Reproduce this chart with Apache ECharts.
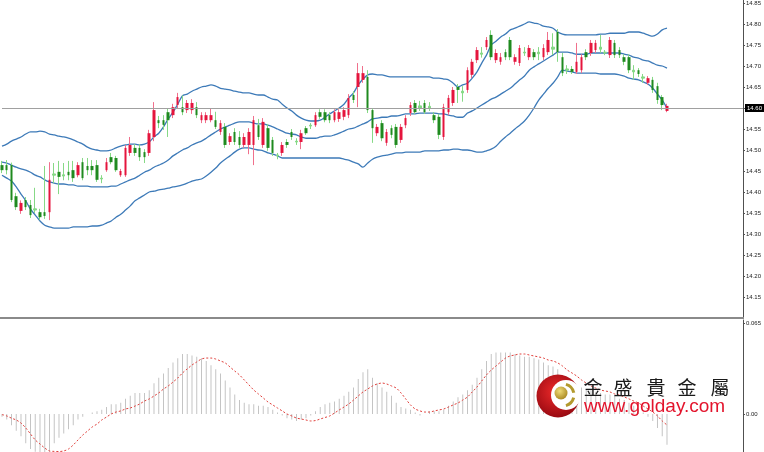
<!DOCTYPE html>
<html><head><meta charset="utf-8">
<script src="https://cdn.jsdelivr.net/npm/echarts@6/dist/echarts.min.js"></script>
<style>html,body{margin:0;padding:0;background:#fff}#c{width:764px;height:452px}</style>
</head><body><div id="c"></div>
<script>
// ---- price candles (141 bars) ----
const openP = [14.464,14.464,14.464,14.390,14.355,14.381,14.369,14.360,14.352,14.352,
14.352,14.443,14.448,14.441,14.448,14.452,14.440,14.471,14.462,14.462,
14.464,14.433,14.452,14.483,14.481,14.440,14.440,14.493,14.505,14.505,
14.495,14.493,14.531,14.571,14.571,14.590,14.583,14.607,14.602,14.595,
14.595,14.602,14.571,14.571,14.571,14.571,14.543,14.555,14.519,14.543,
14.531,14.512,14.512,14.512,14.559,14.512,14.552,14.524,14.488,14.493,
14.519,14.543,14.521,14.519,14.552,14.559,14.559,14.590,14.590,14.583,
14.571,14.574,14.579,14.583,14.631,14.650,14.667,14.674,14.595,14.540,
14.564,14.517,14.552,14.555,14.524,14.559,14.588,14.612,14.605,14.612,
14.604,14.583,14.579,14.531,14.590,14.612,14.650,14.640,14.643,14.679,
14.714,14.731,14.745,14.774,14.714,14.710,14.733,14.762,14.710,14.707,
14.733,14.721,14.733,14.733,14.721,14.733,14.745,14.781,14.721,14.693,
14.693,14.686,14.690,14.733,14.731,14.738,14.745,14.733,14.726,14.755,
14.738,14.721,14.721,14.690,14.690,14.674,14.660,14.667,14.652,14.626,
14.593];
const highP = [14.474,14.476,14.470,14.398,14.380,14.388,14.381,14.410,14.360,14.462,
14.471,14.469,14.474,14.469,14.474,14.474,14.471,14.481,14.481,14.476,
14.476,14.440,14.481,14.493,14.486,14.455,14.512,14.531,14.514,14.514,
14.502,14.548,14.614,14.581,14.583,14.600,14.610,14.636,14.630,14.619,
14.621,14.614,14.590,14.590,14.598,14.591,14.571,14.564,14.540,14.552,
14.545,14.540,14.552,14.581,14.574,14.576,14.562,14.531,14.493,14.519,
14.526,14.550,14.528,14.548,14.557,14.564,14.590,14.597,14.597,14.590,
14.597,14.597,14.602,14.633,14.640,14.707,14.700,14.690,14.600,14.562,
14.571,14.550,14.559,14.562,14.562,14.583,14.614,14.619,14.617,14.619,
14.614,14.590,14.586,14.610,14.631,14.650,14.657,14.652,14.697,14.717,
14.745,14.745,14.769,14.785,14.740,14.731,14.740,14.769,14.728,14.750,
14.745,14.750,14.740,14.745,14.752,14.781,14.778,14.788,14.731,14.702,
14.700,14.755,14.728,14.740,14.762,14.762,14.774,14.738,14.769,14.762,
14.745,14.728,14.728,14.702,14.695,14.681,14.676,14.674,14.660,14.631,
14.610];
const lowP = [14.445,14.442,14.376,14.357,14.348,14.357,14.338,14.350,14.333,14.336,
14.333,14.421,14.395,14.428,14.428,14.424,14.435,14.428,14.440,14.440,
14.424,14.421,14.448,14.466,14.448,14.436,14.436,14.486,14.486,14.474,
14.469,14.486,14.521,14.552,14.548,14.531,14.576,14.600,14.583,14.588,
14.586,14.576,14.564,14.564,14.566,14.550,14.536,14.505,14.512,14.512,
14.505,14.505,14.490,14.464,14.524,14.505,14.498,14.486,14.478,14.486,
14.505,14.524,14.512,14.502,14.536,14.550,14.555,14.574,14.566,14.564,
14.566,14.567,14.571,14.576,14.612,14.602,14.660,14.588,14.517,14.533,
14.521,14.510,14.528,14.505,14.517,14.552,14.581,14.586,14.593,14.586,
14.593,14.564,14.526,14.524,14.583,14.605,14.612,14.615,14.636,14.671,
14.707,14.720,14.738,14.714,14.707,14.703,14.714,14.714,14.703,14.700,
14.724,14.714,14.714,14.714,14.714,14.726,14.726,14.710,14.676,14.681,
14.681,14.681,14.683,14.714,14.724,14.731,14.731,14.726,14.719,14.719,
14.719,14.702,14.683,14.667,14.674,14.660,14.655,14.636,14.610,14.595,
14.590];
const closeP = [14.452,14.452,14.381,14.364,14.374,14.364,14.345,14.357,14.340,14.343,
14.429,14.440,14.436,14.438,14.440,14.433,14.464,14.433,14.452,14.452,
14.429,14.431,14.471,14.471,14.452,14.450,14.505,14.512,14.493,14.483,
14.483,14.540,14.595,14.564,14.560,14.571,14.602,14.626,14.590,14.612,
14.612,14.583,14.583,14.583,14.583,14.555,14.564,14.512,14.533,14.519,
14.512,14.531,14.543,14.571,14.531,14.567,14.505,14.493,14.486,14.512,
14.512,14.531,14.519,14.540,14.540,14.557,14.583,14.579,14.571,14.571,
14.590,14.590,14.595,14.624,14.619,14.683,14.683,14.595,14.552,14.555,
14.528,14.543,14.536,14.512,14.555,14.576,14.607,14.590,14.600,14.590,
14.600,14.571,14.536,14.602,14.624,14.643,14.643,14.636,14.690,14.710,
14.738,14.728,14.762,14.721,14.731,14.721,14.721,14.721,14.721,14.743,
14.731,14.743,14.721,14.729,14.743,14.762,14.740,14.733,14.683,14.690,
14.686,14.710,14.721,14.721,14.755,14.755,14.740,14.731,14.762,14.726,
14.726,14.710,14.690,14.686,14.681,14.671,14.671,14.643,14.619,14.607,
14.605];

// ---- Bollinger bands ----
const bbUpper = [14.509,14.514,14.521,14.526,14.531,14.538,14.543,14.543,14.545,14.543,
14.538,14.536,14.533,14.531,14.528,14.524,14.519,14.514,14.507,14.502,
14.500,14.498,14.498,14.500,14.505,14.509,14.512,14.514,14.514,14.512,
14.514,14.519,14.531,14.540,14.555,14.574,14.590,14.609,14.629,14.633,
14.640,14.645,14.650,14.652,14.655,14.652,14.647,14.645,14.643,14.640,
14.638,14.636,14.636,14.633,14.631,14.631,14.626,14.621,14.619,14.609,
14.600,14.593,14.583,14.576,14.571,14.569,14.569,14.571,14.578,14.586,
14.593,14.600,14.609,14.624,14.636,14.655,14.669,14.679,14.681,14.679,
14.679,14.676,14.674,14.674,14.674,14.674,14.674,14.674,14.674,14.674,
14.674,14.671,14.671,14.669,14.667,14.659,14.650,14.655,14.659,14.671,
14.686,14.707,14.726,14.750,14.759,14.769,14.776,14.786,14.790,14.795,
14.800,14.805,14.802,14.800,14.795,14.793,14.790,14.781,14.776,14.774,
14.774,14.774,14.774,14.774,14.774,14.774,14.776,14.776,14.778,14.778,
14.778,14.778,14.781,14.781,14.781,14.778,14.774,14.771,14.776,14.786,
14.790];
const bbMiddle = [14.471,14.469,14.464,14.459,14.455,14.452,14.447,14.440,14.436,14.429,
14.424,14.421,14.419,14.419,14.417,14.417,14.414,14.414,14.414,14.412,
14.412,14.412,14.412,14.414,14.414,14.419,14.424,14.429,14.433,14.440,
14.447,14.452,14.459,14.464,14.469,14.476,14.486,14.493,14.500,14.505,
14.512,14.517,14.521,14.528,14.536,14.543,14.550,14.555,14.559,14.564,
14.567,14.567,14.567,14.564,14.562,14.562,14.559,14.555,14.550,14.545,
14.540,14.538,14.536,14.531,14.528,14.528,14.528,14.531,14.533,14.533,
14.536,14.540,14.545,14.550,14.552,14.557,14.562,14.567,14.574,14.576,
14.578,14.578,14.581,14.581,14.583,14.586,14.586,14.586,14.588,14.588,
14.588,14.588,14.586,14.586,14.583,14.581,14.578,14.578,14.588,14.593,
14.600,14.607,14.614,14.621,14.626,14.633,14.640,14.647,14.657,14.667,
14.676,14.690,14.698,14.705,14.712,14.719,14.726,14.733,14.733,14.733,
14.731,14.728,14.728,14.728,14.731,14.731,14.731,14.731,14.731,14.731,
14.731,14.728,14.726,14.721,14.719,14.714,14.712,14.707,14.702,14.700,
14.695];
const bbLower = [14.440,14.433,14.426,14.412,14.395,14.379,14.359,14.345,14.331,14.321,
14.317,14.314,14.314,14.314,14.314,14.317,14.317,14.317,14.317,14.319,
14.319,14.321,14.326,14.331,14.340,14.347,14.357,14.367,14.379,14.386,
14.393,14.400,14.402,14.405,14.407,14.409,14.412,14.414,14.417,14.421,
14.426,14.429,14.431,14.438,14.447,14.457,14.469,14.478,14.486,14.495,
14.502,14.505,14.505,14.502,14.500,14.498,14.493,14.490,14.486,14.481,
14.481,14.481,14.481,14.481,14.481,14.481,14.481,14.481,14.481,14.481,
14.481,14.481,14.478,14.476,14.471,14.467,14.459,14.469,14.478,14.483,
14.486,14.488,14.490,14.493,14.493,14.495,14.495,14.495,14.495,14.498,
14.498,14.498,14.498,14.500,14.500,14.502,14.502,14.500,14.500,14.498,
14.495,14.495,14.498,14.502,14.509,14.521,14.531,14.540,14.550,14.559,
14.569,14.583,14.600,14.619,14.633,14.647,14.659,14.674,14.690,14.688,
14.686,14.683,14.683,14.683,14.683,14.683,14.681,14.681,14.681,14.681,
14.679,14.676,14.671,14.669,14.667,14.662,14.657,14.647,14.633,14.619,
14.600];

// ---- MACD ----
const macdHist = [-0.002,-0.004,-0.008,-0.012,-0.016,-0.021,-0.025,-0.027,-0.029,-0.030,
-0.027,-0.021,-0.017,-0.014,-0.011,-0.008,-0.004,-0.002,0.000,0.001,
0.002,0.003,0.005,0.007,0.007,0.008,0.011,0.013,0.015,0.015,
0.015,0.017,0.022,0.026,0.029,0.033,0.037,0.040,0.043,0.043,
0.042,0.041,0.040,0.038,0.035,0.032,0.029,0.024,0.019,0.014,
0.010,0.008,0.007,0.007,0.006,0.006,0.005,0.003,0.001,-0.001,
-0.003,-0.004,-0.005,-0.004,-0.003,-0.001,0.002,0.005,0.007,0.008,
0.009,0.011,0.013,0.016,0.019,0.025,0.030,0.032,0.026,0.022,
0.019,0.016,0.013,0.008,0.005,0.004,0.003,0.001,-0.001,0.000,
0.002,0.002,0.002,0.003,0.006,0.009,0.012,0.014,0.017,0.021,
0.026,0.032,0.038,0.043,0.044,0.044,0.044,0.044,0.043,0.042,
0.041,0.041,0.040,0.039,0.037,0.035,0.034,0.032,0.028,0.024,
0.022,0.020,0.019,0.018,0.017,0.016,0.015,0.014,0.014,0.013,
0.011,0.010,0.008,0.006,0.003,0.001,-0.002,-0.005,-0.010,-0.016,
-0.022];
const macdSignal = [-0.0004,-0.0014,-0.0030,-0.0043,-0.0065,-0.0100,-0.0143,-0.0186,-0.0215,-0.0244,
-0.0265,-0.0268,-0.0269,-0.0265,-0.0251,-0.0222,-0.0186,-0.0151,-0.0122,-0.0093,
-0.0072,-0.0043,-0.0022,0.0000,0.0014,0.0022,0.0036,0.0043,0.0057,0.0072,
0.0093,0.0108,0.0129,0.0151,0.0179,0.0201,0.0229,0.0258,0.0294,0.0323,
0.0351,0.0373,0.0394,0.0401,0.0401,0.0394,0.0380,0.0366,0.0337,0.0308,
0.0280,0.0244,0.0208,0.0172,0.0143,0.0115,0.0086,0.0065,0.0043,0.0022,
0.0000,-0.0014,-0.0029,-0.0036,-0.0043,-0.0050,-0.0047,-0.0036,-0.0025,-0.0014,
0.0007,0.0029,0.0050,0.0072,0.0100,0.0129,0.0158,0.0179,0.0201,0.0215,
0.0222,0.0215,0.0201,0.0186,0.0151,0.0108,0.0065,0.0036,0.0022,0.0014,
0.0014,0.0022,0.0029,0.0036,0.0050,0.0065,0.0079,0.0100,0.0122,0.0158,
0.0194,0.0237,0.0280,0.0315,0.0344,0.0373,0.0401,0.0416,0.0423,0.0430,
0.0430,0.0423,0.0416,0.0409,0.0401,0.0387,0.0380,0.0366,0.0344,0.0315,
0.0294,0.0272,0.0244,0.0222,0.0201,0.0186,0.0172,0.0165,0.0158,0.0143,
0.0136,0.0122,0.0108,0.0093,0.0079,0.0057,0.0036,0.0014,-0.0014,-0.0050,
-0.0079];

// ---- axes / labels ----
const priceTickLabels = ['14.15','14.20','14.25','14.30','14.35','14.40','14.45','14.50','14.55','14.60','14.65','14.70','14.75','14.80','14.85'];
const macdTickLabels = ['0.00','0.065'];
const currentPrice = 14.60;
const emptySlots = 16;
const brandName = ['金','盛','貴','金','屬'];
const brandUrl = 'www.golday.com';

const categories = openP.map((_, i) => 'B' + (i + 1));
for (let k = 0; k < emptySlots; k++) categories.push('');

const upBody = '#e5153d', downBody = '#1f8a1f', upWick = '#f0708c', downWick = '#86d986';
const wickData = openP.map((o, i) => [o, closeP[i], lowP[i], highP[i]]);
const bodyData = openP.map((o, i) => {
  const c = closeP[i];
  const item = { value: [o, c, Math.min(o, c), Math.max(o, c)] };
  if (Math.abs(c - o) < 0.0055) {
    item.itemStyle = { color: downWick, color0: downWick, borderColor: downWick, borderColor0: downWick, borderWidth: 1 };
  }
  return item;
});

const chart = echarts.init(document.getElementById('c'), null, { renderer: 'canvas' });
const labelFont = { fontSize: 6, color: '#222', fontFamily: 'Liberation Sans' };
const charX = [593, 623, 656, 687, 720];

chart.setOption({
  animation: false,
  backgroundColor: '#ffffff',
  grid: [
    { left: 2, right: 20, top: 0, height: 318 },
    { left: 2, right: 20, top: 320, height: 132 }
  ],
  xAxis: [
    { type: 'category', data: categories, gridIndex: 0, boundaryGap: false, show: false },
    { type: 'category', data: categories, gridIndex: 1, boundaryGap: false, show: false }
  ],
  yAxis: [
    { type: 'value', gridIndex: 0, position: 'right', min: 14.10, max: 14.8571, scale: true,
      axisLine: { show: true, lineStyle: { color: '#505050', width: 1 } },
      axisTick: { show: true, length: 2, customValues: priceTickLabels.map(Number), lineStyle: { color: '#505050' } },
      axisLabel: Object.assign({ customValues: priceTickLabels.map(Number), margin: 3,
        formatter: v => priceTickLabels.find(t => Math.abs(Number(t) - v) < 1e-6) || '' }, labelFont),
      splitLine: { show: false } },
    { type: 'value', gridIndex: 1, position: 'right', min: -0.02724, max: 0.06738,
      axisLine: { show: true, lineStyle: { color: '#505050', width: 1 } },
      axisTick: { show: true, length: 2, customValues: macdTickLabels.map(Number), lineStyle: { color: '#505050' } },
      axisLabel: Object.assign({ customValues: macdTickLabels.map(Number), margin: 3,
        formatter: v => macdTickLabels.find(t => Math.abs(Number(t) - v) < 1e-6) || '' }, labelFont),
      splitLine: { show: false } }
  ],
  series: [
    { type: 'line', name: 'upper', data: bbUpper, xAxisIndex: 0, yAxisIndex: 0, showSymbol: false, smooth: 0.3,
      lineStyle: { color: '#3d7ab8', width: 1.3 }, z: 2 },
    { type: 'line', name: 'middle', data: bbMiddle, xAxisIndex: 0, yAxisIndex: 0, showSymbol: false, smooth: 0.3,
      lineStyle: { color: '#3d7ab8', width: 1.3 }, z: 2 },
    { type: 'line', name: 'lower', data: bbLower, xAxisIndex: 0, yAxisIndex: 0, showSymbol: false, smooth: 0.3,
      lineStyle: { color: '#3d7ab8', width: 1.3 }, z: 2 },
    { type: 'candlestick', name: 'wick', data: wickData, xAxisIndex: 0, yAxisIndex: 0, barWidth: 0.1, z: 3,
      itemStyle: { color: upWick, color0: downWick, borderColor: upWick, borderColor0: downWick, borderWidth: 1 },
      markLine: { silent: true, symbol: ['none', 'none'], animation: false,
        lineStyle: { color: '#a0a0a0', width: 1, type: 'solid' },
        label: { show: true, position: 'end', distance: 2, formatter: currentPrice.toFixed(2), color: '#fff',
          backgroundColor: '#000', padding: [1, 2, 1, 2], fontSize: 6, fontFamily: 'Liberation Sans' },
        data: [{ yAxis: currentPrice }] } },
    { type: 'candlestick', name: 'body', data: bodyData, xAxisIndex: 0, yAxisIndex: 0, barWidth: 3, z: 4,
      itemStyle: { color: upBody, color0: downBody, borderColor: upBody, borderColor0: downBody, borderWidth: 0 } },
    { type: 'bar', name: 'macd', data: macdHist, xAxisIndex: 1, yAxisIndex: 1, barWidth: 1,
      itemStyle: { color: '#c4c4c4' }, z: 2 },
    { type: 'line', name: 'signal', data: macdSignal, xAxisIndex: 1, yAxisIndex: 1, showSymbol: false, smooth: 0.3,
      lineStyle: { color: '#e0403c', width: 1, type: [2, 2] }, z: 3 }
  ],
  graphic: [
    { type: 'rect', shape: { x: 0, y: 317, width: 744, height: 2 }, style: { fill: '#8a8a8a' }, z: 10 },
    { type: 'circle', shape: { cx: 558, cy: 396, r: 21.5 }, z: 20,
      style: { fill: new echarts.graphic.RadialGradient(0.45, 0.4, 0.6, [{ offset: 0, color: '#ee2a2a' }, { offset: 1, color: '#9a0a12' }]) } },
    { type: 'circle', shape: { cx: 566, cy: 395, r: 15 }, style: { fill: '#ffffff' }, z: 21 },
    { type: 'arc', shape: { cx: 563, cy: 395, r: 11, startAngle: -1.3, endAngle: -0.2 }, style: { stroke: '#b39a2e', lineWidth: 3, fill: null }, z: 22 },
    { type: 'arc', shape: { cx: 563, cy: 395, r: 11, startAngle: 0.25, endAngle: 1.3 }, style: { stroke: '#b39a2e', lineWidth: 3, fill: null }, z: 22 },
    { type: 'circle', shape: { cx: 561, cy: 393, r: 6.5 }, z: 22,
      style: { fill: new echarts.graphic.RadialGradient(0.4, 0.35, 0.7, [{ offset: 0, color: '#f0dc78' }, { offset: 1, color: '#a8861e' }]) } }
  ].concat(brandName.map((ch, k) => ({
    type: 'text', x: charX[k], y: 388, z: 22,
    style: { text: ch, font: '19px "Noto Sans CJK TC"', fill: '#1a1a1a', align: 'center', verticalAlign: 'middle' }
  }))).concat([
    { type: 'text', x: 584, y: 407, z: 22,
      style: { text: brandUrl, font: '19px "Liberation Sans"', fill: '#e3142c', align: 'left', verticalAlign: 'middle' } }
  ])
});
</script>
</body></html>
